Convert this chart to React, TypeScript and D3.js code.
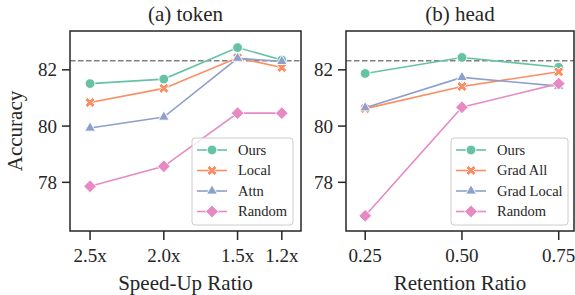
import React from "react";
import * as d3 from "d3";

// panel (a): token pruning
const speedups = [2.5, 2.0, 1.5, 1.2];
const speedupLabels = ["2.5x", "2.0x", "1.5x", "1.2x"];
const tokenOurs = [81.51, 81.67, 82.79, 82.35];
const tokenLocal = [80.84, 81.34, 82.43, 82.08];
const tokenAttn = [79.93, 80.32, 82.41, 82.3];
const tokenRandom = [77.86, 78.57, 80.46, 80.46];

// panel (b): head pruning
const retention = [0.25, 0.5, 0.75];
const retentionLabels = ["0.25", "0.50", "0.75"];
const headOurs = [81.87, 82.44, 82.09];
const headGradAll = [80.62, 81.41, 81.93];
const headGradLocal = [80.65, 81.73, 81.42];
const headRandom = [76.81, 80.67, 81.51];

const yTicks = [78, 80, 82];
const baseline = 82.32;

const colors = ["#66c2a5", "#fc8d62", "#8da0cb", "#e78ac3"];
const font = "Liberation Serif, Times New Roman, Times, serif";
const ink = "#262626";

type Series = { name: string; values: number[] };

const markerPath = (i: number) => {
  if (i === 0) return d3.symbol(d3.symbolCircle, 75)()!;
  if (i === 1) return d3.symbol(d3.symbolCross, 62)()!;
  if (i === 2) return d3.symbol(d3.symbolTriangle, 50)()!;
  return d3.symbol(d3.symbolSquare, 82)()!;
};
const markerRot = (i: number) => (i === 1 || i === 3 ? 45 : 0);

const Marker = ({ i, x, y }: { i: number; x: number; y: number }) => (
  <path
    d={markerPath(i)}
    transform={`translate(${x},${y}) rotate(${markerRot(i)})`}
    fill={colors[i]}
    stroke="#fff"
    strokeWidth={0.9}
  />
);

type PanelProps = {
  left: number;
  right: number;
  title: string;
  xLabel: string;
  xs: number[];
  xLabels: string[];
  xDomain: [number, number];
  series: Series[];
  legendW: number;
  legendInset: number;
  showYLabel: boolean;
};

const top = 31;
const bottom = 231;

const Panel = (p: PanelProps) => {
  const x = d3.scaleLinear().domain(p.xDomain).range([p.left, p.right]);
  const y = d3.scaleLinear().domain([76.27, 83.38]).range([bottom, top]);
  const line = d3
    .line<number>()
    .x((_, i) => x(p.xs[i]))
    .y((d) => y(d));
  const lx1 = p.right - p.legendInset;
  const lx0 = lx1 - p.legendW;
  const ly1 = bottom - 6;
  const ly0 = ly1 - 87;
  return (
    <g style={{ fontFamily: font }} fill={ink}>
      <text x={(p.left + p.right) / 2} y={21} textAnchor="middle" fontSize={21}>
        {p.title}
      </text>
      <line
        x1={p.left}
        x2={p.right}
        y1={y(baseline)}
        y2={y(baseline)}
        stroke="#808080"
        strokeWidth={1.5}
        strokeDasharray="5.5,2.5"
      />
      {p.series.map((s, i) => (
        <g key={s.name}>
          <path d={line(s.values)!} fill="none" stroke={colors[i]} strokeWidth={1.6} />
          {s.values.map((v, j) => (
            <Marker key={j} i={i} x={x(p.xs[j])} y={y(v)} />
          ))}
        </g>
      ))}
      <rect
        x={p.left}
        y={top}
        width={p.right - p.left}
        height={bottom - top}
        fill="none"
        stroke={ink}
        strokeWidth={1.5}
      />
      {yTicks.map((t) => (
        <g key={t}>
          <line x1={p.left - 8} x2={p.left} y1={y(t)} y2={y(t)} stroke={ink} strokeWidth={1.5} />
          <text x={p.left - 13} y={y(t)} dy="0.34em" textAnchor="end" fontSize={19}>
            {t}
          </text>
        </g>
      ))}
      {p.xs.map((v, i) => (
        <g key={v}>
          <line x1={x(v)} x2={x(v)} y1={bottom} y2={bottom + 9} stroke={ink} strokeWidth={1.5} />
          <text x={x(v)} y={bottom + 31} textAnchor="middle" fontSize={19}>
            {p.xLabels[i]}
          </text>
        </g>
      ))}
      <text x={(p.left + p.right) / 2} y={bottom + 59} textAnchor="middle" fontSize={21}>
        {p.xLabel}
      </text>
      {p.showYLabel && (
        <text
          transform={`translate(22,${(top + bottom) / 2}) rotate(-90)`}
          textAnchor="middle"
          fontSize={21}
        >
          Accuracy
        </text>
      )}
      <rect
        x={lx0}
        y={ly0}
        width={lx1 - lx0}
        height={ly1 - ly0}
        rx={3}
        fill="#fff"
        fillOpacity={0.8}
        stroke="#cccccc"
        strokeWidth={1}
      />
      {p.series.map((s, i) => {
        const cy = ly0 + 12 + i * 20.5;
        return (
          <g key={s.name}>
            <line x1={lx0 + 5} x2={lx0 + 35} y1={cy} y2={cy} stroke={colors[i]} strokeWidth={1.6} />
            <Marker i={i} x={lx0 + 20} y={cy} />
            <text x={lx0 + 46} y={cy} dy="0.34em" fontSize={14.5}>
              {s.name}
            </text>
          </g>
        );
      })}
    </g>
  );
};

export default function App() {
  return (
    <svg
      width={575}
      height={295}
      style={{ position: "absolute", left: 0, top: 0, background: "#fff" }}
    >
      <Panel
        left={70}
        right={301}
        title="(a) token"
        xLabel="Speed-Up Ratio"
        xs={speedups}
        xLabels={speedupLabels}
        xDomain={[2.636, 1.07]}
        series={[
          { name: "Ours", values: tokenOurs },
          { name: "Local", values: tokenLocal },
          { name: "Attn", values: tokenAttn },
          { name: "Random", values: tokenRandom },
        ]}
        legendW={101}
        legendInset={8}
        showYLabel={true}
      />
      <Panel
        left={346}
        right={574}
        title="(b) head"
        xLabel="Retention Ratio"
        xs={retention}
        xLabels={retentionLabels}
        xDomain={[0.2004, 0.7895]}
        series={[
          { name: "Ours", values: headOurs },
          { name: "Grad All", values: headGradAll },
          { name: "Grad Local", values: headGradLocal },
          { name: "Random", values: headRandom },
        ]}
        legendW={117}
        legendInset={6}
        showYLabel={false}
      />
    </svg>
  );
}
